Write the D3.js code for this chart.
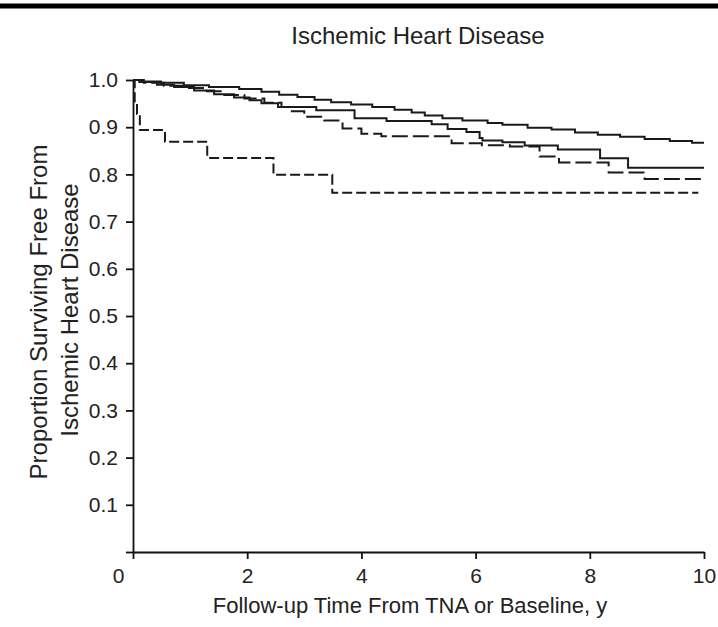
<!DOCTYPE html>
<html lang="en">
<head>
    <meta charset="UTF-8">
    <title>Ischemic Heart Disease</title>
    <script src="https://d3js.org/d3.v7.min.js"></script>
    <style>
        body { margin: 0; background: #fff; }
        text { font-family: "Liberation Sans", Arial, sans-serif; fill: #222; }
        .axis path,
        .axis line { fill: none; stroke: #111; stroke-width: 1.8; }
        .km { fill: none; stroke: #1a1a1a; stroke-width: 2; }
    </style>
</head>
<body>
    <div id="chart"></div>
    <script>
        // Kaplan-Meier steps (years, proportion free of IHD)
        var topSolidTime = [0, 0.14, 0.49, 0.89, 1.33, 1.86, 2.25, 2.56, 2.88, 3.18, 3.47, 3.82, 4.19, 4.58, 4.88, 5.11, 5.42, 5.77, 6.21, 6.47, 6.91, 7.33, 7.74, 8.14, 8.53, 8.96, 9.40, 9.79, 10];
        var topSolidSurv = [1.0, 0.997, 0.994, 0.989, 0.985, 0.981, 0.975, 0.969, 0.964, 0.958, 0.953, 0.948, 0.943, 0.937, 0.931, 0.925, 0.919, 0.914, 0.909, 0.905, 0.899, 0.895, 0.889, 0.884, 0.880, 0.875, 0.871, 0.867, 0.867];

        var midSolidTime = [0, 0.11, 0.42, 0.72, 1.07, 1.42, 1.77, 2.04, 2.25, 2.54, 3.21, 3.88, 4.44, 5.23, 5.51, 5.84, 6.07, 6.12, 6.47, 6.86, 7.44, 8.18, 8.67, 10];
        var midSolidSurv = [1.0, 0.996, 0.990, 0.985, 0.978, 0.970, 0.963, 0.957, 0.951, 0.943, 0.936, 0.919, 0.913, 0.906, 0.896, 0.890, 0.877, 0.872, 0.868, 0.861, 0.853, 0.834, 0.814, 0.814];

        var longDashTime = [0, 0.19, 0.54, 0.89, 1.25, 1.60, 1.95, 2.30, 2.60, 2.74, 3.00, 3.35, 3.67, 4.00, 4.35, 5.58, 6.11, 6.60, 7.12, 7.46, 8.33, 8.96, 10];
        var longDashSurv = [1.0, 0.994, 0.988, 0.983, 0.976, 0.968, 0.961, 0.952, 0.943, 0.934, 0.922, 0.914, 0.897, 0.886, 0.881, 0.866, 0.862, 0.859, 0.838, 0.825, 0.804, 0.790, 0.790];

        var shortDashTime = [0, 0.03, 0.07, 0.12, 0.56, 1.30, 2.46, 3.49, 9.9];
        var shortDashSurv = [1.0, 0.95, 0.928, 0.894, 0.869, 0.835, 0.799, 0.761, 0.761];

        var xTicks = [0, 2, 4, 6, 8, 10];
        var yTicks = [0, 0.1, 0.2, 0.3, 0.4, 0.5, 0.6, 0.7, 0.8, 0.9, 1.0];

        var W = 718, H = 627;
        var margin = { top: 80, right: 14, bottom: 75, left: 133 },
            width = W - margin.left - margin.right,
            height = H - margin.top - margin.bottom;

        var root = d3.select("#chart")
            .append("svg")
            .attr("width", W)
            .attr("height", H);

        root.append("rect").attr("width", W).attr("height", H).attr("fill", "#fff");

        // heavy rule across the top
        root.append("line")
            .attr("x1", 0).attr("x2", W)
            .attr("y1", 6).attr("y2", 6)
            .attr("stroke", "#000")
            .attr("stroke-width", 5);

        var svg = root.append("g")
            .attr("transform", "translate(" + margin.left + "," + margin.top + ")");

        var x = d3.scaleLinear().domain([0, 10]).range([0, width]);
        var y = d3.scaleLinear().domain([0, 1]).range([height, 0]);

        var yAxis = svg.append("g")
            .attr("class", "axis")
            .call(d3.axisLeft(y)
                .tickValues(yTicks)
                .tickSize(7)
                .tickSizeOuter(0)
                .tickPadding(8)
                .tickFormat(function (d) { return d === 0 ? "" : d3.format(".1f")(d); }));

        var xAxis = svg.append("g")
            .attr("class", "axis")
            .attr("transform", "translate(0," + height + ")")
            .call(d3.axisBottom(x)
                .tickValues(xTicks)
                .tickSize(7)
                .tickSizeOuter(0)
                .tickPadding(9));

        yAxis.selectAll(".tick text").style("font-size", "21px").style("fill", "#222");
        xAxis.selectAll(".tick text").style("font-size", "21px").style("fill", "#222");

        // the "0" sits left of the corner in the original
        xAxis.selectAll(".tick text")
            .filter(function (d) { return d === 0; })
            .attr("dx", -15);

        var line = d3.line()
            .curve(d3.curveStepAfter)
            .x(function (d) { return x(d.t); })
            .y(function (d) { return y(d.s); });

        function pairs(ts, ss) {
            return ts.map(function (t, i) { return { t: t, s: ss[i] }; });
        }

        var series = [
            { pts: pairs(shortDashTime, shortDashSurv), dash: "10,4" },
            { pts: pairs(longDashTime, longDashSurv), dash: "16,5" },
            { pts: pairs(midSolidTime, midSolidSurv), dash: null },
            { pts: pairs(topSolidTime, topSolidSurv), dash: null }
        ];

        svg.selectAll(".km")
            .data(series)
            .enter()
            .append("path")
            .attr("class", "km")
            .attr("d", function (d) { return line(d.pts); })
            .attr("stroke-dasharray", function (d) { return d.dash; });

        // titles
        root.append("text")
            .attr("x", 418)
            .attr("y", 44)
            .attr("text-anchor", "middle")
            .style("font-size", "24px")
            .text("Ischemic Heart Disease");

        root.append("text")
            .attr("x", 410)
            .attr("y", 613)
            .attr("text-anchor", "middle")
            .style("font-size", "22px")
            .text("Follow-up Time From TNA or Baseline, y");

        root.append("text")
            .attr("transform", "translate(47,312) rotate(-90)")
            .attr("text-anchor", "middle")
            .style("font-size", "24px")
            .text("Proportion Surviving Free From");

        root.append("text")
            .attr("transform", "translate(78,310) rotate(-90)")
            .attr("text-anchor", "middle")
            .style("font-size", "24px")
            .text("Ischemic Heart Disease");
    </script>
</body>
</html>
